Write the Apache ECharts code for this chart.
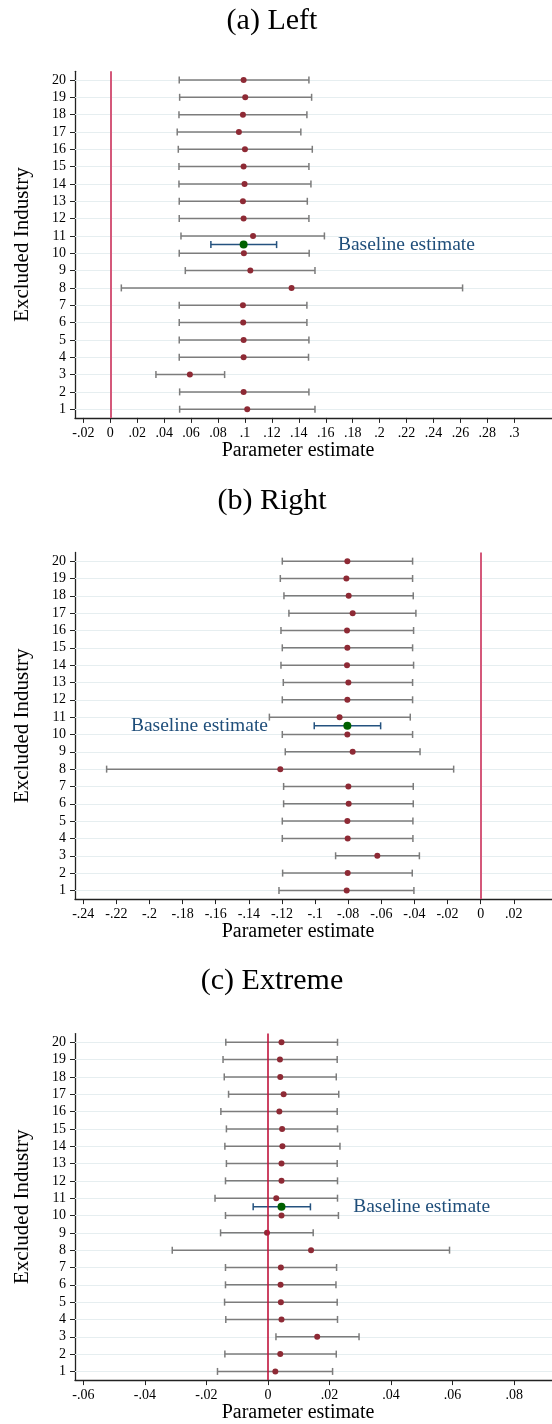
<!DOCTYPE html>
<html>
<head>
<meta charset="utf-8">
<script src="https://cdn.jsdelivr.net/npm/echarts@6/dist/echarts.min.js"></script>
<style>
html,body{margin:0;padding:0;background:#fff;}
#chart{width:552px;height:1424px;}
</style>
</head>
<body>
<div id="chart"></div>
<script>
// ---------- data ----------
const industries = [1,2,3,4,5,6,7,8,9,10,11,12,13,14,15,16,17,18,19,20];
const baselineRow = 10.5;

// Panel (a) Left
const ptA = [0.1017, 0.099, 0.0591, 0.099, 0.099, 0.0987, 0.0985, 0.1346, 0.104, 0.0992, 0.106, 0.099, 0.0985, 0.0997, 0.099, 0.100, 0.0955, 0.0985, 0.1002, 0.099];
const loA = [0.0515, 0.0515, 0.0339, 0.0512, 0.0512, 0.0512, 0.0512, 0.0082, 0.0557, 0.0512, 0.0525, 0.0512, 0.0512, 0.051, 0.051, 0.0505, 0.0497, 0.051, 0.0515, 0.0512];
const hiA = [0.152, 0.1475, 0.0849, 0.1472, 0.1475, 0.146, 0.146, 0.2616, 0.152, 0.1477, 0.159, 0.1475, 0.1463, 0.149, 0.1475, 0.150, 0.1415, 0.146, 0.1495, 0.1475];
const baseA = [0.0747, 0.099, 0.1235]; // lo, point, hi

// Panel (b) Right
const ptB = [-0.0809, -0.0803, -0.0624, -0.0803, -0.0805, -0.0797, -0.0799, -0.121, -0.0773, -0.0805, -0.0852, -0.0805, -0.0799, -0.0807, -0.0805, -0.0807, -0.0773, -0.0797, -0.0811, -0.0805];
const loB = [-0.1218, -0.1196, -0.0876, -0.1198, -0.1198, -0.119, -0.119, -0.2259, -0.118, -0.1198, -0.1276, -0.1198, -0.1192, -0.1206, -0.1198, -0.1206, -0.1158, -0.1188, -0.121, -0.1198];
const hiB = [-0.0403, -0.0413, -0.037, -0.0409, -0.0409, -0.0407, -0.0407, -0.0163, -0.0366, -0.0411, -0.0425, -0.0411, -0.0411, -0.0405, -0.0411, -0.0405, -0.0391, -0.0407, -0.0411, -0.0411];
const baseB = [-0.1005, -0.0805, -0.0604];

// Panel (c) Extreme
const ptC = [0.0024, 0.004, 0.016, 0.0044, 0.0042, 0.0041, 0.0042, 0.014, -0.0003, 0.0044, 0.0027, 0.0044, 0.0044, 0.0047, 0.0046, 0.0037, 0.0051, 0.004, 0.0039, 0.0044];
const loC = [-0.0164, -0.014, 0.0026, -0.0137, -0.0141, -0.0138, -0.0138, -0.0311, -0.0154, -0.0138, -0.0172, -0.0138, -0.0135, -0.014, -0.0135, -0.0153, -0.0128, -0.0142, -0.0146, -0.0137];
const hiC = [0.021, 0.0222, 0.0296, 0.0226, 0.0225, 0.0221, 0.0223, 0.059, 0.0147, 0.0229, 0.0226, 0.0226, 0.0225, 0.0234, 0.0226, 0.0225, 0.023, 0.0222, 0.0225, 0.0226];
const baseC = [-0.0048, 0.0044, 0.0138];

// tick values
const xTicksA = [-0.02, 0, 0.02, 0.04, 0.06, 0.08, 0.1, 0.12, 0.14, 0.16, 0.18, 0.2, 0.22, 0.24, 0.26, 0.28, 0.3];
const xTicksB = [-0.24, -0.22, -0.2, -0.18, -0.16, -0.14, -0.12, -0.1, -0.08, -0.06, -0.04, -0.02, 0, 0.02];
const xTicksC = [-0.06, -0.04, -0.02, 0, 0.02, 0.04, 0.06, 0.08];

const titles = ['(a) Left', '(b) Right', '(c) Extreme'];
const xAxisName = 'Parameter estimate';
const yAxisName = 'Excluded Industry';
const baselineText = 'Baseline estimate';
const baselineTextX = [0.169, -0.2112, 0.0277];

// ---------- layout / style ----------
const FONT = 'Liberation Serif';
const panels = [
  {pt: ptA, lo: loA, hi: hiA, base: baseA, ticks: xTicksA, min: -0.0262, max: 0.328, top: 71.3, titleY: 20.7, zeroColor: '#d4587a', zeroWidth: 2},
  {pt: ptB, lo: loB, hi: hiB, base: baseB, ticks: xTicksB, min: -0.245, max: 0.0431, top: 552.5, titleY: 500.7, zeroColor: '#d4587a', zeroWidth: 2},
  {pt: ptC, lo: loC, hi: hiC, base: baseC, ticks: xTicksC, min: -0.0627, max: 0.0923, top: 1033.6, titleY: 980.7, zeroColor: '#c0143c', zeroWidth: 1.6}
];
const plotH = 346.6;

function fmt(v) {
  if (Math.abs(v) < 1e-9) return '0';
  return String(+v.toFixed(2)).replace('0.', '.');
}

function errorBarRender(color, lw, cap) {
  return function (params, api) {
    const y = api.value(0), lo = api.value(1), hi = api.value(2);
    const p1 = api.coord([lo, y]);
    const p2 = api.coord([hi, y]);
    const st = {stroke: color, lineWidth: lw};
    return {
      type: 'group',
      children: [
        {type: 'line', shape: {x1: p1[0], y1: p1[1], x2: p2[0], y2: p2[1]}, style: st},
        {type: 'line', shape: {x1: p1[0], y1: p1[1] - cap, x2: p1[0], y2: p1[1] + cap}, style: st},
        {type: 'line', shape: {x1: p2[0], y1: p2[1] - cap, x2: p2[0], y2: p2[1] + cap}, style: st}
      ]
    };
  };
}

const grids = [], xAxes = [], yAxes = [], series = [], graphics = [];

panels.forEach((p, i) => {
  grids.push({left: 75, right: 0, top: p.top, height: plotH, containLabel: false});
  xAxes.push({
    type: 'value', gridIndex: i, min: p.min, max: p.max,
    name: xAxisName, nameLocation: 'middle', nameGap: 22,
    nameTextStyle: {fontFamily: FONT, fontSize: 20, color: '#000', padding: [0, 31, 0, 0]},
    axisLine: {show: true, onZero: false, lineStyle: {color: '#222', width: 1.3}},
    axisTick: {show: true, length: 5, customValues: p.ticks, lineStyle: {color: '#222', width: 1}},
    axisLabel: {customValues: p.ticks, formatter: fmt, fontFamily: FONT, fontSize: 14, color: '#000', margin: 8},
    splitLine: {show: false}
  });
  yAxes.push({
    type: 'value', gridIndex: i, min: 0.5, max: 20.5,
    name: yAxisName, nameLocation: 'middle', nameGap: 42,
    nameTextStyle: {fontFamily: FONT, fontSize: 21, color: '#000'},
    axisLine: {show: true, onZero: false, lineStyle: {color: '#222', width: 1.3}},
    axisTick: {show: true, length: 5, customValues: industries, lineStyle: {color: '#222', width: 1}},
    axisLabel: {customValues: industries, fontFamily: FONT, fontSize: 14, color: '#000', margin: 9},
    splitLine: {show: false}
  });

  // grid lines + error bars
  series.push({
    type: 'custom', xAxisIndex: i, yAxisIndex: i, z: 2,
    renderItem: errorBarRender('#7c7c7c', 1.5, 3.5),
    encode: {x: [1, 2], y: 0},
    data: industries.map((r, k) => [r, p.lo[k], p.hi[k]]),
    markLine: {
      silent: true, symbol: 'none', z: 1,
      label: {show: false},
      lineStyle: {color: '#e6eef0', width: 1, type: 'solid', opacity: 1},
      data: industries.map(r => ({yAxis: r}))
    }
  });
  // points
  series.push({
    type: 'scatter', xAxisIndex: i, yAxisIndex: i, z: 3,
    symbol: 'circle', symbolSize: 6,
    itemStyle: {color: '#8e2a35', opacity: 1},
    data: industries.map((r, k) => [p.pt[k], r])
  });
  // baseline error bar
  series.push({
    type: 'custom', xAxisIndex: i, yAxisIndex: i, z: 4,
    renderItem: errorBarRender('#24527f', 1.5, 3.5),
    encode: {x: [1, 2], y: 0},
    data: [[baselineRow, p.base[0], p.base[2]]]
  });
  // baseline point + zero line
  series.push({
    type: 'scatter', xAxisIndex: i, yAxisIndex: i, z: 5,
    symbol: 'circle', symbolSize: 8,
    itemStyle: {color: '#006000', opacity: 1},
    data: [[p.base[1], baselineRow]],
    markLine: {
      silent: true, symbol: 'none', z: 6,
      label: {show: false},
      lineStyle: {color: p.zeroColor, width: p.zeroWidth, type: 'solid', opacity: 1},
      data: [{xAxis: 0}]
    }
  });
  // annotation text
  series.push({
    type: 'scatter', xAxisIndex: i, yAxisIndex: i, z: 5,
    symbolSize: 0, silent: true,
    itemStyle: {opacity: 1},
    data: [[baselineTextX[i], baselineRow]],
    label: {show: true, position: 'right', distance: 0, formatter: baselineText,
      fontFamily: FONT, fontSize: 19.5, color: '#1f4e7a', opacity: 1}
  });

  graphics.push({
    type: 'text', x: 272, y: p.titleY,
    style: {text: titles[i], fontFamily: FONT, fontSize: 30, fill: '#000', textAlign: 'center', textVerticalAlign: 'middle'}
  });
});

const chart = echarts.init(document.getElementById('chart'), null, {renderer: 'canvas'});
chart.setOption({
  animation: false,
  backgroundColor: '#fff',
  grid: grids,
  xAxis: xAxes,
  yAxis: yAxes,
  series: series,
  graphic: graphics
});
</script>
</body>
</html>
